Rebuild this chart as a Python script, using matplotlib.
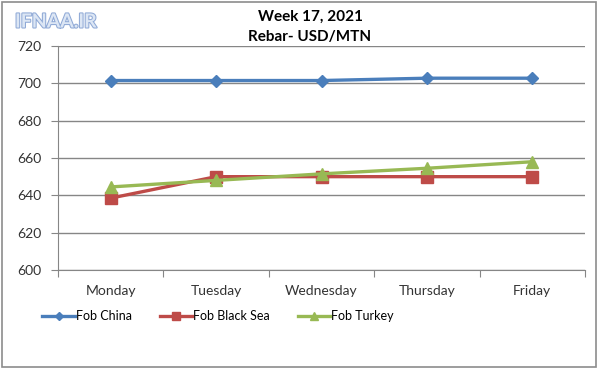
import matplotlib.pyplot as plt
import matplotlib.patheffects as pe
from matplotlib.patches import Rectangle

# chart data
days = ["Monday", "Tuesday", "Wednesday", "Thursday", "Friday"]
fob_china = [701.5, 701.5, 701.5, 702.75, 702.75]
fob_black_sea = [638.5, 650, 650, 650, 650]
fob_turkey = [644.5, 648, 651.5, 654.5, 658]
yticks = [600, 620, 640, 660, 680, 700, 720]

plt.rcParams['font.family'] = ['Lato', 'DejaVu Sans']

fig = plt.figure(figsize=(6, 3.68), dpi=100)
W, H = 600, 368

# outer grey frame
fig.patches.append(Rectangle((0.003, 0.003), 0.99, 0.992, transform=fig.transFigure,
                             fill=False, edgecolor='#8c8c8c', linewidth=1.2))

ax = fig.add_axes([58 / W, 1 - 270 / H, (585 - 58) / W, (270 - 46) / H])

x = list(range(len(days)))
ax.plot(x, fob_china, color='#4a7ebb', lw=2.4, marker='D', ms=6, label='Fob China')
ax.plot(x, fob_black_sea, color='#be4b48', lw=2.4, marker='s', ms=8, label='Fob Black Sea')
ax.plot(x, fob_turkey, color='#98b954', lw=2.4, marker='^', ms=8, label='Fob Turkey')

ax.set_xlim(-0.5, len(days) - 0.5)
ax.set_ylim(600, 720)
ax.set_yticks(yticks)
ax.set_xticks([i - 0.5 for i in range(len(days) + 1)])
ax.set_xticklabels([])
ax.set_xticks(x, minor=True)
ax.set_xticklabels(days, minor=True)
ax.tick_params(axis='x', which='minor', length=0, pad=11, labelsize=10, colors='#333333')
ax.tick_params(axis='x', which='major', length=5, color='#868686', direction='out')
ax.tick_params(axis='y', length=5, color='#868686', labelsize=10, colors='#333333', pad=7)

ax.grid(axis='y', color='#868686', lw=1)
for s in ['top', 'right']:
    ax.spines[s].set_visible(False)
for s in ['left', 'bottom']:
    ax.spines[s].set_color('#868686')

fig.text(310 / W, 1 - 17 / H, "Week 17, 2021", ha='center', va='center',
         fontsize=11, fontweight='bold')
fig.text(310 / W, 1 - 37 / H, "Rebar- USD/MTN", ha='center', va='center',
         fontsize=11, fontweight='bold')

# watermark
fig.text(15 / W, 1 - 22 / H, "IFNAA.IR", ha='left', va='center', fontsize=14,
         color='#dce6f4', fontweight='bold',
         path_effects=[pe.withStroke(linewidth=1.5, foreground='#8fa9d6')])

fig.legend(loc='center left', bbox_to_anchor=(31 / W, 1 - 316 / H), ncol=3,
           frameon=False, fontsize=9, handlelength=2.6, columnspacing=2.2,
           handletextpad=0.1, markerscale=0.75)

fig.savefig('out.png', dpi=100)
